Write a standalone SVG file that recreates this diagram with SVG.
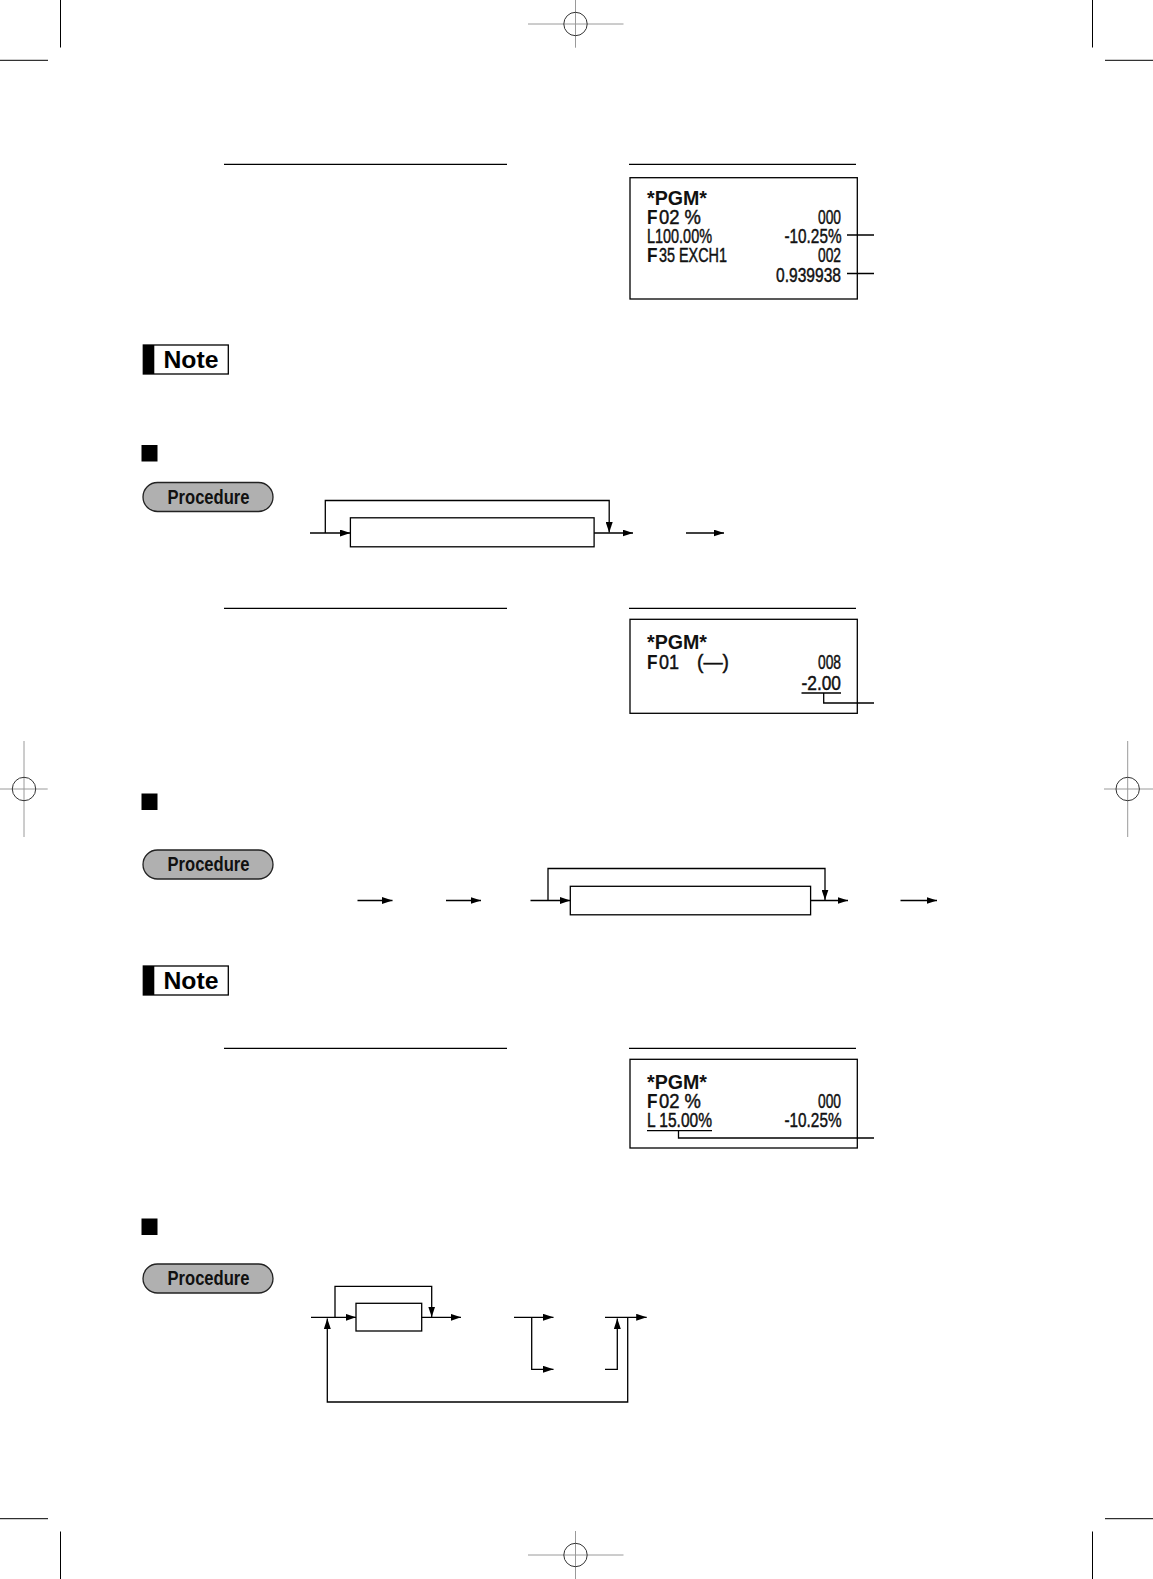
<svg xmlns="http://www.w3.org/2000/svg" width="1153" height="1579" viewBox="0 0 1153 1579">
<style>
.ln{stroke:#000;stroke-width:1.3;fill:none}
.crop{stroke:#000;stroke-width:1;fill:none}
.regl{stroke:#9a9a9a;stroke-width:1;fill:none}
.regc{stroke:#333;stroke-width:1;fill:none}
.box{fill:#fff;stroke:#000;stroke-width:1.3}
.rt{font-family:"Liberation Sans",Arial,sans-serif;font-size:19.5px;fill:#111;stroke:#111;stroke-width:0.45}
.rh{font-family:"Liberation Sans",Arial,sans-serif;font-size:20px;font-weight:bold;fill:#111}
.rf{font-family:"Liberation Sans",Arial,sans-serif;font-size:19.5px;font-weight:bold;fill:#111}
.note rect.o{fill:#fff;stroke:#000;stroke-width:1.3}
.note text{font-family:"Liberation Sans",Arial,sans-serif;font-size:23.5px;font-weight:bold;fill:#000}
.proc rect{fill:#b0b0b0;stroke:#222;stroke-width:1.3}
.proc text{font-family:"Liberation Sans",Arial,sans-serif;font-size:20px;font-weight:bold;fill:#111}
.fb{fill:#fff;stroke:#000;stroke-width:1.3}
</style>
<defs>
<marker id="ar" markerUnits="userSpaceOnUse" markerWidth="11" markerHeight="7" refX="10.5" refY="3.5" orient="auto">
<path d="M0,0 L10.5,3.5 L0,7 z" fill="#000"/>
</marker>
</defs>
<rect width="1153" height="1579" fill="#fff"/>

<g id="crop-marks">
<path class="crop" d="M60.5,0 V47.5 M0,60.3 H48 M1092.5,0 V47.5 M1105,60.3 H1153 M60.5,1531.5 V1579 M0,1518.7 H48 M1092.5,1531.5 V1579 M1105,1518.7 H1153"/>
</g>
<g id="registration-marks">
<path class="regl" d="M528,24 H623.5 M575.5,0 V47.7 M528,1555 H623.5 M575.5,1531 V1579 M0,789 H47.7 M24,741 V837 M1104,789 H1153 M1127.7,741 V837"/>
<circle class="regc" cx="575.5" cy="24" r="11.7"/>
<circle class="regc" cx="575.5" cy="1555" r="11.7"/>
<circle class="regc" cx="24" cy="789" r="11.7"/>
<circle class="regc" cx="1127.7" cy="789" r="11.7"/>
</g>

<g id="rules">
<path class="ln" d="M224,164.3 H507 M629,164.3 H856 M224,608.3 H507 M629,608.3 H856 M224,1048.3 H507 M629,1048.3 H856"/>
</g>

<g id="receipt-1">
<rect class="box" x="630" y="177.7" width="227.3" height="121.3"/>
<text class="rh" x="647" y="204.5" textLength="60" lengthAdjust="spacingAndGlyphs">*PGM*</text>
<text class="rf" x="647" y="223.5" textLength="10.5" lengthAdjust="spacingAndGlyphs">F</text>
<text class="rt" x="659" y="223.5" textLength="42" lengthAdjust="spacingAndGlyphs">02 %</text>
<text class="rt" x="818" y="223.5" textLength="23" lengthAdjust="spacingAndGlyphs">000</text>
<text class="rt" x="647" y="242.7" textLength="65" lengthAdjust="spacingAndGlyphs">L100.00%</text>
<text class="rt" x="784.5" y="242.7" textLength="57" lengthAdjust="spacingAndGlyphs">-10.25%</text>
<text class="rf" x="647" y="262" textLength="10.5" lengthAdjust="spacingAndGlyphs">F</text>
<text class="rt" x="659" y="262" textLength="68" lengthAdjust="spacingAndGlyphs">35 EXCH1</text>
<text class="rt" x="818" y="262" textLength="23" lengthAdjust="spacingAndGlyphs">002</text>
<text class="rt" x="776" y="281.5" textLength="65" lengthAdjust="spacingAndGlyphs">0.939938</text>
</g>

<g id="note-1" class="note">
<rect class="o" x="143.3" y="345" width="85" height="29"/>
<rect x="143.3" y="345" width="11" height="29" fill="#000"/>
<text x="163.5" y="367.5" textLength="55" lengthAdjust="spacingAndGlyphs">Note</text>
</g>

<g id="heading-square-1"><rect x="141.5" y="445" width="16" height="16.5" fill="#000"/></g>

<g id="procedure-1" class="proc">
<rect x="143" y="482.5" width="130" height="29" rx="14.5"/>
<text x="167.5" y="503.5" textLength="82" lengthAdjust="spacingAndGlyphs">Procedure</text>
</g>
<g id="flow1-box"><rect class="fb" x="350.4" y="517.8" width="243.7" height="29"/></g>

<g id="receipt-2">
<rect class="box" x="630" y="619.3" width="227.3" height="94"/>
<text class="rh" x="647" y="649" textLength="60" lengthAdjust="spacingAndGlyphs">*PGM*</text>
<text class="rf" x="647" y="668.5" textLength="10.5" lengthAdjust="spacingAndGlyphs">F</text>
<text class="rt" x="659" y="668.5" textLength="20" lengthAdjust="spacingAndGlyphs">01</text>
<text class="rt" x="697" y="668.5" textLength="32" lengthAdjust="spacingAndGlyphs">(—)</text>
<text class="rt" x="818" y="668.5" textLength="23" lengthAdjust="spacingAndGlyphs">008</text>
<text class="rt" x="801.5" y="689.5" textLength="39.5" lengthAdjust="spacingAndGlyphs">-2.00</text>
<path class="ln" d="M801.5,693 H841 M823.7,693 V703 H874"/>
</g>

<g id="heading-square-2"><rect x="141.5" y="793.5" width="16" height="16.5" fill="#000"/></g>

<g id="procedure-2" class="proc">
<rect x="143" y="850" width="130" height="29" rx="14.5"/>
<text x="167.5" y="871" textLength="82" lengthAdjust="spacingAndGlyphs">Procedure</text>
</g>
<g id="flow2-box"><rect class="fb" x="570.3" y="886.3" width="240.3" height="28.5"/></g>

<g id="note-2" class="note">
<rect class="o" x="143.3" y="966" width="85" height="29"/>
<rect x="143.3" y="966" width="11" height="29" fill="#000"/>
<text x="163.5" y="988.5" textLength="55" lengthAdjust="spacingAndGlyphs">Note</text>
</g>

<g id="receipt-3">
<rect class="box" x="630" y="1059.3" width="227.3" height="88.7"/>
<text class="rh" x="647" y="1088.5" textLength="60" lengthAdjust="spacingAndGlyphs">*PGM*</text>
<text class="rf" x="647" y="1107.5" textLength="10.5" lengthAdjust="spacingAndGlyphs">F</text>
<text class="rt" x="659" y="1107.5" textLength="42" lengthAdjust="spacingAndGlyphs">02 %</text>
<text class="rt" x="818" y="1107.5" textLength="23" lengthAdjust="spacingAndGlyphs">000</text>
<text class="rt" x="647" y="1127" textLength="65" lengthAdjust="spacingAndGlyphs">L 15.00%</text>
<text class="rt" x="784.5" y="1127" textLength="57" lengthAdjust="spacingAndGlyphs">-10.25%</text>
<path class="ln" d="M647,1130.7 H712 M678.5,1130.7 V1138 H874"/>
</g>

<g id="heading-square-3"><rect x="141.5" y="1218.5" width="16" height="16.5" fill="#000"/></g>

<g id="procedure-3" class="proc">
<rect x="143" y="1264" width="130" height="29" rx="14.5"/>
<text x="167.5" y="1285" textLength="82" lengthAdjust="spacingAndGlyphs">Procedure</text>
</g>
<g id="flow3-box"><rect class="fb" x="356" y="1303.3" width="65.7" height="27.7"/></g>

<g id="connectors">
<path class="ln" d="M847,235 H874 M847,273.5 H874"/>
<path class="ln" marker-end="url(#ar)" d="M310,533 H350.4"/>
<path class="ln" marker-end="url(#ar)" d="M325.3,533 V500.5 H609.2 V532.5"/>
<path class="ln" marker-end="url(#ar)" d="M594.1,533 H633"/>
<path class="ln" marker-end="url(#ar)" d="M686,533 H724"/>

<path class="ln" marker-end="url(#ar)" d="M357.5,900.5 H392.5"/>
<path class="ln" marker-end="url(#ar)" d="M446,900.5 H481"/>
<path class="ln" marker-end="url(#ar)" d="M530.5,900.5 H570.3"/>
<path class="ln" marker-end="url(#ar)" d="M548,900.5 V868.5 H825 V900"/>
<path class="ln" marker-end="url(#ar)" d="M810.6,900.5 H848"/>
<path class="ln" marker-end="url(#ar)" d="M900.5,900.5 H937"/>

<path class="ln" marker-end="url(#ar)" d="M311,1317.3 H356"/>
<path class="ln" marker-end="url(#ar)" d="M335,1317.3 V1286.3 H431.7 V1317"/>
<path class="ln" marker-end="url(#ar)" d="M421.7,1317.3 H461"/>
<path class="ln" marker-end="url(#ar)" d="M627.7,1317.3 V1402 H327.3 V1318.5"/>
<path class="ln" marker-end="url(#ar)" d="M514,1317.3 H553.5"/>
<path class="ln" marker-end="url(#ar)" d="M531.7,1317.3 V1369.3 H553.5"/>
<path class="ln" marker-end="url(#ar)" d="M605,1317.3 H646.7"/>
<path class="ln" marker-end="url(#ar)" d="M605,1369.3 H617.3 V1318.5"/>
</g>
</svg>
